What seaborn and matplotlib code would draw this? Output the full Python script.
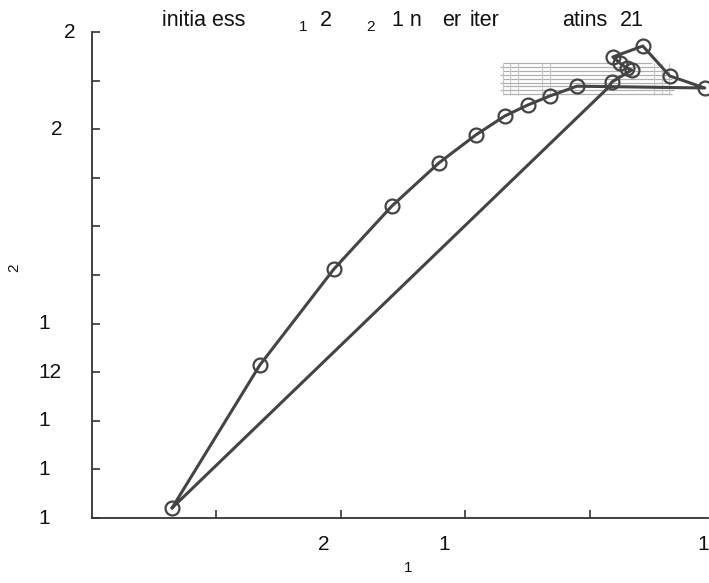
import matplotlib
matplotlib.use("Agg")
import matplotlib.pyplot as plt
import seaborn as sns
import numpy as np

sns.set_style("white")
plt.rcParams['font.family'] = ['Liberation Sans', 'DejaVu Sans']

# iterate path (data units: x ticks every 1, y ticks every 1)
path_x = [0.643, 1.349, 1.944, 2.410, 2.787, 3.084, 3.317, 3.502, 3.679, 3.896,
          4.924, 4.643, 4.426, 4.185, 4.241, 4.297, 4.337, 4.177, 4.145, 0.643]
path_y = [0.206, 3.148, 5.123, 6.420, 7.305, 7.881, 8.272, 8.498, 8.683, 8.885,
          8.848, 9.095, 9.712, 9.486, 9.362, 9.259, 9.218, 8.971, 8.848, 0.206]
marker_idx = list(range(0, 18))

# faint contour-like band
band_levels = [8.72, 8.80, 8.88, 8.96, 9.04, 9.12, 9.20, 9.28, 9.36]
band_x0 = [3.30, 3.28, 3.30, 3.28, 3.30, 3.28, 3.30, 3.28, 3.30]
band_x1 = [4.66, 4.68, 4.64, 4.68, 4.66, 4.62, 4.60, 4.56, 4.50]
band_vx = [3.30, 3.36, 3.42, 3.62, 3.68, 4.52, 4.58, 4.64]

y_tick_pos = [0, 1, 2, 3, 4, 5, 6, 7, 8, 9, 10]
y_tick_lab = {10: "2", 8: "2", 4: "1", 3: "12", 2: "1", 1: "1", 0: "1"}
y_lab_offset = {10: -22, 8: -35, 4: -48, 3: -42, 2: -48, 1: -48, 0: -48}
x_tick_pos = [1, 2, 3, 4]
x_tick_lab = [(1.86, "2"), (2.83, "1"), (4.91, "1")]

fig = plt.figure(figsize=(7.09, 5.83), dpi=100)
W, H = 709, 583
ax = fig.add_axes([92 / W, (583 - 518) / H, (708 - 92) / W, (518 - 32) / H])

for lv, a, b in zip(band_levels, band_x0, band_x1):
    ax.hlines(lv, a, b, color="#b0b0b0", lw=0.9, zorder=1)
ax.vlines(band_vx, 8.70, 9.36, color="#c4c4c4", lw=0.8, zorder=1)

sns.lineplot(x=path_x, y=path_y, sort=False, estimator=None, ax=ax,
             color="#444444", lw=2.2, zorder=3)
ax.plot([path_x[i] for i in marker_idx], [path_y[i] for i in marker_idx],
        ls="none", marker="o", ms=10, mfc="none", mec="#444444", mew=1.6, zorder=4)

ax.set_xlim(0, 4.95)
ax.set_ylim(0, 10)
ax.set_xticks(x_tick_pos)
ax.set_xticklabels([])
ax.set_yticks(y_tick_pos)
ax.set_yticklabels([])
ax.tick_params(direction="in", length=6, width=1.2, color="#333333",
               bottom=True, left=True)
for s in ["top", "right"]:
    ax.spines[s].set_visible(False)
for s in ["left", "bottom"]:
    ax.spines[s].set_color("#333333")
    ax.spines[s].set_linewidth(1.3)

fs = 15
for v, lab in y_tick_lab.items():
    ax.annotate(lab, xy=(0, v), xycoords=("axes fraction", "data"),
                xytext=(y_lab_offset[v] * 0.72, 0), textcoords="offset points",
                ha="center", va="center", fontsize=fs, color="#111111")
for v, lab in x_tick_lab:
    ax.annotate(lab, xy=(v, 0), xycoords=("data", "axes fraction"),
                xytext=(0, -19), textcoords="offset points",
                ha="center", va="center", fontsize=fs, color="#111111")

# axis labels
fig.text(14 / W, 1 - 268 / H, "2", rotation=90, ha="center", va="center",
         fontsize=11, color="#111111")
fig.text(408 / W, 1 - 568 / H, "1", ha="center", va="center",
         fontsize=11, color="#111111")

# garbled title pieces
title_parts = [(162, "initia ess", 0), (299, "1", 7), (320, "2", 0), (366, "2", 7),
               (392, "1 n", 0), (442, "er", 0), (470, "iter", 0),
               (562, "atins", 0), (620, "21", 0)]
for px, txt, sub in title_parts:
    fig.text(px / W, 1 - (20 + sub) / H, txt, ha="left", va="center",
             fontsize=(11 if sub else 15.5), color="#111111")

fig.savefig("out.png", dpi=100)
